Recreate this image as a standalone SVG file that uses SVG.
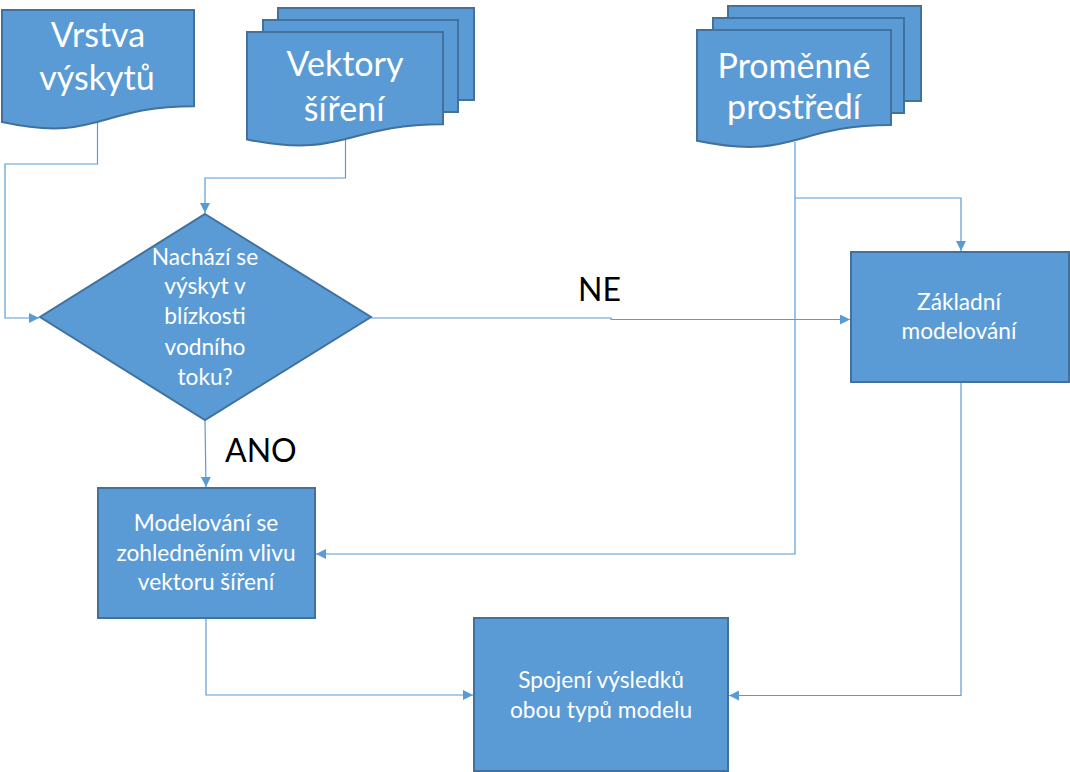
<svg xmlns="http://www.w3.org/2000/svg" width="1070" height="772" viewBox="0 0 1070 772">
<style>
.shape{fill:#5B9BD5;stroke:#41719C;stroke-width:2}
.big{font-family:Lato,"Liberation Sans",sans-serif;font-size:34px;fill:#fff;text-anchor:middle}
.sm{font-family:Lato,"Liberation Sans",sans-serif;font-size:22.7px;fill:#fff;text-anchor:middle}
.lbl{font-family:Lato,"Liberation Sans",sans-serif;font-size:32px;fill:#000}
.con{fill:none;stroke:#5B9BD5;stroke-width:1.2}
</style>
<defs>
<marker id="arr" viewBox="0 0 10 10" refX="10" refY="5" markerWidth="10" markerHeight="10" markerUnits="userSpaceOnUse" orient="auto">
<path d="M0,0 L10,5 L0,10 Z" fill="#5B9BD5"/>
</marker>
</defs>
<rect width="1070" height="772" fill="#fff"/>
<g id="connectors">
<path class="con" d="M97.5,122 V164 H5 V318 H39" marker-end="url(#arr)"/>
<path class="con" d="M345.5,140 V178 H205 V213" marker-end="url(#arr)"/>
<path class="con" d="M371,318 H611 V319.5 H850" marker-end="url(#arr)"/>
<path class="con" d="M205,420 L206,487" marker-end="url(#arr)"/>
<path class="con" d="M795,142 V554 H316" marker-end="url(#arr)"/>
<path class="con" d="M795,198 H961 V251" marker-end="url(#arr)"/>
<path class="con" d="M206,618 V695 H473" marker-end="url(#arr)"/>
<path class="con" d="M961,382 V695.5 H729" marker-end="url(#arr)"/>
</g>
<g id="vrstva">
<path class="shape" d="M2,10 H194 V106.2 C98,106.2 98,142.8 2,122.1 Z"/>
<text class="big" x="98" y="47">Vrstva</text>
<text class="big" x="97" y="90">výskytů</text>
</g>
<g id="vektory">
<rect class="shape" x="278" y="8" width="196" height="92"/>
<rect class="shape" x="263" y="20" width="195" height="92"/>
<path class="shape" d="M247,32 H443 V124.2 C345,124.2 345,159.3 247,139.4 Z"/>
<text class="big" x="345" y="76">Vektory</text>
<text class="big" x="344" y="121">šíření</text>
</g>
<g id="promenne">
<rect class="shape" x="728" y="6" width="193" height="95"/>
<rect class="shape" x="713" y="18" width="191" height="95"/>
<path class="shape" d="M697,30 H891 V125 C794,125 794,161 697,140.7 Z"/>
<text class="big" x="794" y="78">Proměnné</text>
<text class="big" x="794" y="119">prostředí</text>
</g>
<g id="diamond">
<path class="shape" d="M205,214 L371,317 L205,420 L40,317 Z"/>
<text class="sm" x="205" y="265">Nachází se</text>
<text class="sm" x="205" y="294">výskyt v</text>
<text class="sm" x="205" y="324">blízkosti</text>
<text class="sm" x="205" y="355">vodního</text>
<text class="sm" x="205" y="385">toku?</text>
</g>
<g id="zakladni">
<rect class="shape" x="851" y="252" width="218" height="130"/>
<text class="sm" x="959" y="310">Základní</text>
<text class="sm" x="959" y="339">modelování</text>
</g>
<g id="modelovani">
<rect class="shape" x="98" y="488" width="217" height="130"/>
<text class="sm" x="206" y="531">Modelování se</text>
<text class="sm" x="206" y="561">zohledněním vlivu</text>
<text class="sm" x="206" y="590">vektoru šíření</text>
</g>
<g id="spojeni">
<rect class="shape" x="474" y="618" width="254" height="153"/>
<text class="sm" x="601" y="688">Spojení výsledků</text>
<text class="sm" x="601" y="718">obou typů modelu</text>
</g>
<g id="labels">
<text class="lbl" x="225" y="462">ANO</text>
<text class="lbl" x="578" y="301">NE</text>
</g>
</svg>
